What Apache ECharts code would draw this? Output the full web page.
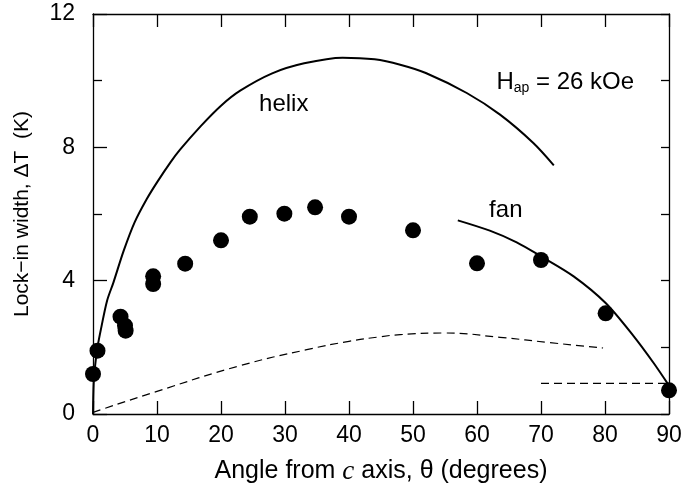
<!DOCTYPE html>
<html lang="en">
<head>
  <meta charset="utf-8">
  <title>Lock-in width vs angle</title>
  <style>
    html, body { margin: 0; padding: 0; background: #fff; }
    .box { width: 683px; height: 490px; }
  </style>
</head>
<body>
  <script src="https://cdn.jsdelivr.net/npm/echarts@6/dist/echarts.min.js"></script>
  <div class="box"></div>
  <script>
    // measured points (angle, width)
    var dots = [
      [0, 1.2], [0.7, 1.9], [4.3, 2.92], [5, 2.65], [5.1, 2.5],
      [9.4, 4.13], [9.4, 3.9], [14.4, 4.51], [20, 5.21], [24.5, 5.92],
      [29.9, 6.01], [34.7, 6.2], [40, 5.92], [50, 5.51], [60, 4.52],
      [70, 4.62], [80.1, 3.02], [90, 0.71]
    ];
    // helix curve
    var helix = [
      [0, 0], [0.1, 0.9], [0.3, 1.4], [0.7, 2.0], [1.3, 2.6], [2.2, 3.4],
      [3.2, 3.95], [4.8, 4.9], [6.5, 5.75], [8.4, 6.45], [10, 6.95],
      [12.1, 7.55], [13.6, 7.93], [16.8, 8.63], [20, 9.25], [23, 9.7],
      [28, 10.22], [33, 10.52], [39, 10.69], [44, 10.64], [48, 10.48],
      [52, 10.23], [58.4, 9.63], [63.6, 8.98], [68.8, 8.13], [72, 7.46]
    ];
    // fan curve
    var fan = [
      [57, 5.81], [62, 5.5], [66.2, 5.15], [70, 4.73], [75.1, 4.13],
      [80.1, 3.33], [84.5, 2.33], [87.6, 1.53], [89.9, 0.88]
    ];
    // dashed curves
    var dashLow = [
      [0, 0.05], [10, 0.68], [23, 1.45], [33.4, 1.93], [40, 2.18],
      [45, 2.32], [48, 2.38], [54.8, 2.43], [63.6, 2.3], [71.4, 2.14], [79.7, 1.98]
    ];
    var dashFlat = [[70, 0.92], [90, 0.92]];
    // text labels placed in data coords
    var notes = [
      { value: [29.8, 9.3], text: 'helix' },
      { value: [64.5, 6.12], text: 'fan' },
      { value: [73.8, 9.96], text: 'H{sub|ap} = 26 kOe' }
    ];

    var font = 'Liberation Sans, Arial, sans-serif';
    var ink = '#000';
    var myChart = echarts.init(document.querySelector('.box'));

    var axisBase = {
      type: 'value',
      axisLine: { show: true, onZero: false, lineStyle: { color: ink, width: 1.3 } },
      splitLine: { show: false }
    };
    var tickStyle = { color: ink, width: 1.3 };

    var option = {
      animation: false,
      grid: { left: 93, right: 14, top: 14, bottom: 76, containLabel: false, outerBoundsMode: 'none' },
      xAxis: [
        Object.assign({}, axisBase, {
          min: 0, max: 90, interval: 10, position: 'bottom',
          axisTick: { inside: true, length: 13, lineStyle: tickStyle },
          axisLabel: { fontFamily: font, fontSize: 23, color: ink, margin: 10 },
          name: 'Angle from {i|c} axis, θ (degrees)',
          nameLocation: 'middle', nameGap: 44,
          nameTextStyle: {
            fontFamily: font, fontSize: 25, color: ink,
            rich: { i: { fontFamily: 'Liberation Serif, serif', fontStyle: 'italic', fontSize: 27, color: ink } }
          }
        }),
        Object.assign({}, axisBase, {
          min: 0, max: 90, interval: 10, position: 'top',
          axisTick: { inside: true, length: 13, lineStyle: tickStyle },
          axisLabel: { show: false }
        })
      ],
      yAxis: [
        Object.assign({}, axisBase, {
          min: 0, max: 12, interval: 4, position: 'left',
          axisTick: { inside: true, length: 14, lineStyle: tickStyle },
          minorTick: { show: true, splitNumber: 2, length: 9, lineStyle: tickStyle },
          axisLabel: { fontFamily: font, fontSize: 23, color: ink, margin: 18 },
          name: 'Lock\u2212in width, \u0394T  (K)',
          nameLocation: 'middle', nameGap: 60,
          nameTextStyle: { fontFamily: font, fontSize: 21, color: ink }
        }),
        Object.assign({}, axisBase, {
          min: 0, max: 12, interval: 2, position: 'right',
          axisTick: { inside: true, length: 8, lineStyle: tickStyle },
          axisLabel: { show: false }
        })
      ],
      series: [
        {
          type: 'line', data: helix, showSymbol: false, smooth: 0.3,
          lineStyle: { color: ink, width: 2 }, z: 2
        },
        {
          type: 'line', data: fan, showSymbol: false, smooth: 0.3,
          lineStyle: { color: ink, width: 2 }, z: 2
        },
        {
          type: 'line', data: dashLow, showSymbol: false, smooth: 0.5,
          lineStyle: { color: ink, width: 1.2, type: [8, 5] }, z: 2
        },
        {
          type: 'line', data: dashFlat, showSymbol: false,
          lineStyle: { color: ink, width: 1.2, type: [8, 5] }, z: 2
        },
        {
          type: 'scatter', data: dots, symbol: 'circle', symbolSize: 16,
          itemStyle: { color: '#000', opacity: 1 }, z: 5
        },
        {
          type: 'scatter', symbolSize: 0, silent: true, z: 6,
          itemStyle: { opacity: 1 },
          data: notes.map(function (n) { return { value: n.value, name: n.text }; }),
          label: {
            show: true, position: 'inside',
            formatter: function (p) { return p.name; },
            fontFamily: font, fontSize: 24, color: ink,
            rich: {
              sub: { fontFamily: font, fontSize: 14, color: ink, verticalAlign: 'bottom', padding: [12, 0, 0, 0] }
            }
          }
        }
      ]
    };
    myChart.setOption(option);
  </script>
</body>
</html>
